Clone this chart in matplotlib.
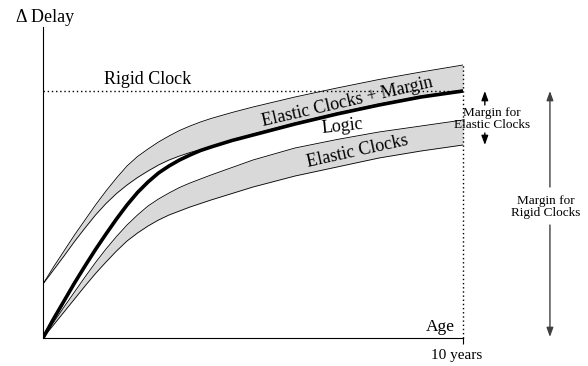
import matplotlib.pyplot as plt

plt.rcParams['font.family'] = ['Liberation Serif', 'DejaVu Serif']

# age in years
age = [0, 0.25, 0.5, 0.75, 1, 1.25, 1.5, 1.75, 2, 2.25, 2.5, 2.75, 3, 3.25, 3.5, 3.75, 4,
       4.5, 5, 5.5, 6, 7, 8, 9, 10]

# delay curves (arbitrary units)
logic = [0, 19, 37, 55, 72, 88.5, 104, 119, 133, 145.5, 156, 165, 172, 178, 183, 187.5, 191,
         197.5, 203, 208.5, 214, 224, 233, 241, 247]
margin_top = [54, 71, 87, 103, 118, 133, 147, 160, 172, 181.5, 189, 196, 202, 207.5, 212, 216, 219.5,
              225.5, 231, 236, 241, 250, 258.5, 266, 273]
margin_bot = [54, 68, 82, 96.5, 110, 123, 134.5, 144.5, 153, 160.5, 167, 173, 178, 182, 185.5, 188.5, 191.5,
              198, 204, 209.5, 215, 225, 234, 242, 248]
elastic_top = [0, 15.5, 31, 46, 61, 75.5, 89, 101.5, 113, 123, 132, 139, 145, 150.5, 155, 159, 163,
               170.5, 178, 184, 190, 198.5, 206, 212, 218]
elastic_bot = [0, 13, 26, 39, 52, 64.5, 76, 87, 97, 105, 112, 118, 123, 127, 131, 134.5, 138,
               144.5, 151, 156.5, 162, 171, 180, 187, 193]

rigid = logic[-1]

fig = plt.figure(figsize=(5.88, 3.66), dpi=100)
ax = fig.add_axes([43/588, 28/366, 420/588, 311/366])

# bands
ax.fill_between(age, margin_bot, margin_top, color='#d9d9d9', lw=0)
ax.plot(age, margin_top, color='black', lw=0.6)
ax.plot(age, margin_bot, color='black', lw=0.6)
ax.fill_between(age, elastic_bot, elastic_top, color='#d9d9d9', lw=0)
ax.plot(age, elastic_top, color='black', lw=0.6)
ax.plot(age, elastic_bot, color='black', lw=0.6)

# logic curve
ax.plot(age, logic, color='black', lw=2.6, solid_capstyle='butt')

# rigid clock level and 10 years line
ax.plot([0, 10], [rigid, rigid], color='black', lw=1, ls=(0, (1, 2)))
ax.plot([10, 10], [0, margin_top[-1]], color='black', lw=1, ls=(0, (1, 2)), clip_on=False)

ax.set_xlim(0, 10)
ax.set_ylim(0, 311)
ax.spines['top'].set_visible(False)
ax.spines['right'].set_visible(False)
ax.set_xticks([10])
ax.set_xticklabels([''])
ax.tick_params(axis='x', length=4, width=0.8, direction='out')
ax.set_yticks([])

# texts
ax.text(-0.64, 321, 'Δ Delay', fontsize=13, ha='left', va='center', clip_on=False)
ax.text(2.48, 258, 'Rigid Clock', fontsize=13, ha='center', va='center')
ax.text(7.24, 236, 'Elastic Clocks + Margin', fontsize=13, ha='center', va='center', rotation=13)
ax.text(7.14, 212, 'Logic', fontsize=13, ha='center', va='center', rotation=6)
ax.text(7.48, 187, 'Elastic Clocks', fontsize=13, ha='center', va='center', rotation=12.5)
ax.text(9.81, 11, 'Age', fontsize=12.5, ha='right', va='center')
ax.text(9.86, -17, '10 years', fontsize=11, ha='center', va='center', clip_on=False)
ax.text(10.69, 219, 'Margin for\nElastic Clocks', fontsize=9.5, ha='center', va='center',
        linespacing=0.95, clip_on=False)
ax.text(11.98, 131, 'Margin for\nRigid Clocks', fontsize=9.5, ha='center', va='center',
        linespacing=1.0, clip_on=False)

# arrows
def arrow(x, y0, y1, color):
    ax.annotate('', xy=(x, y1), xytext=(x, y0), annotation_clip=False,
                arrowprops=dict(arrowstyle='-|>,head_length=0.55,head_width=0.2',
                                color=color, lw=1, shrinkA=0, shrinkB=0))

arrow(10.52, rigid - 14, rigid, 'black')
arrow(10.52, elastic_bot[-1] + 12, elastic_bot[-1], 'black')
arrow(12.07, rigid - 96, rigid, '#404040')
arrow(12.07, 113, 1, '#404040')

fig.savefig('out.png', dpi=100)
